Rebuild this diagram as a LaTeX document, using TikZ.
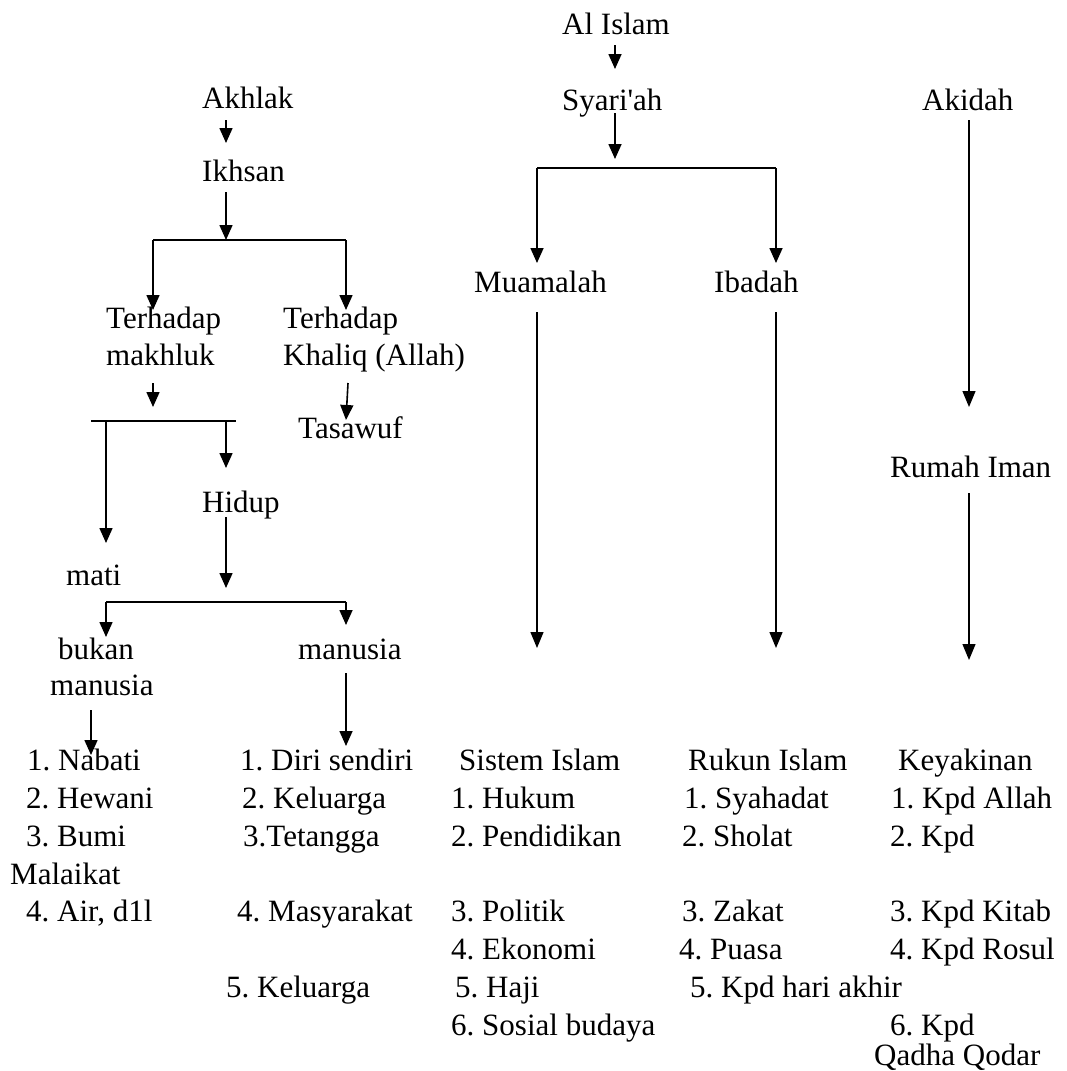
\documentclass[tikz,border=0pt]{standalone}
\usepackage{fontspec}
\setmainfont{Liberation Serif}
\usetikzlibrary{arrows.meta}
\frenchspacing
\begin{document}
\begin{tikzpicture}[x=1pt,y=-1pt,
  txt/.style={inner sep=0pt,anchor=base west,font=\fontsize{31}{37}\selectfont},
  arr/.style={line width=1.6pt,-{Triangle[width=13pt,length=15pt]}},
  longarr/.style={line width=1.3pt,-{Triangle[width=13pt,length=16pt]}},
  ln/.style={line width=1.6pt}]
\useasboundingbox (0,0) rectangle (1066,1071);
% ---------- left tree ----------
\node[txt] (akhlak) at (202,108) {Akhlak};
\node[txt] (ikhsan) at (202,181) {Ikhsan};
\node[txt] (terL1) at (106,328) {Terhadap};
\node[txt] (terL2) at (106,365) {makhluk};
\node[txt] (terR1) at (283,328) {Terhadap};
\node[txt] (terR2) at (283,365) {Khaliq (Allah)};
\node[txt] (tasawuf) at (298,438) {Tasawuf};
\node[txt] (hidup) at (202,512) {Hidup};
\node[txt] (mati) at (66,585) {mati};
\node[txt] (bukan1) at (58,659) {bukan};
\node[txt] (bukan2) at (50,695) {manusia};
\node[txt] (manusia) at (298,659) {manusia};
% coordinates
\coordinate (a1s) at (226,120); \coordinate (a1e) at (226,143);
\coordinate (a2s) at (226,192); \coordinate (a2e) at (226,240);
\coordinate (b1L) at (153,240); \coordinate (b1R) at (346,240);
\coordinate (b1Le) at (153,310); \coordinate (b1Re) at (346,310);
\coordinate (a3s) at (153,383); \coordinate (a3e) at (153,407);
\coordinate (a4s) at (348,383); \coordinate (a4e) at (346,420);
\coordinate (b2L) at (91,421); \coordinate (b2R) at (236,421);
\coordinate (b2l) at (106,421); \coordinate (b2r) at (226,421);
\coordinate (b2le) at (106,543); \coordinate (b2re) at (226,468);
\coordinate (a5s) at (226,517); \coordinate (a5e) at (226,588);
\coordinate (b3L) at (106,602); \coordinate (b3R) at (346,602);
\coordinate (b3Le) at (106,637); \coordinate (b3Re) at (346,625);
\coordinate (a6s) at (91,710); \coordinate (a6e) at (91,755);
\coordinate (a7s) at (346,673); \coordinate (a7e) at (346,746);
\draw[arr] (a1s) -- (a1e);
\draw[arr] (a2s) -- (a2e);
\draw[ln] (b1L) -- (b1R);
\draw[arr] (b1L) -- (b1Le);
\draw[arr] (b1R) -- (b1Re);
\draw[arr] (a3s) -- (a3e);
\draw[arr] (a4s) -- (a4e);
\draw[ln] (b2L) -- (b2R);
\draw[arr] (b2l) -- (b2le);
\draw[arr] (b2r) -- (b2re);
\draw[arr] (a5s) -- (a5e);
\draw[ln] (b3L) -- (b3R);
\draw[arr] (b3L) -- (b3Le);
\draw[arr] (b3R) -- (b3Re);
\draw[arr] (a6s) -- (a6e);
\draw[arr] (a7s) -- (a7e);
% ---------- right trees ----------
\node[txt] (alislam) at (562,34) {Al Islam};
\node[txt] (syariah) at (562,110) {Syari\textquotesingle ah};
\node[txt] (akidah) at (922,110) {Akidah};
\node[txt] (muamalah) at (474,292) {Muamalah};
\node[txt] (ibadah) at (714,292) {Ibadah};
\node[txt] (rumah) at (890,477) {Rumah Iman};
\coordinate (c1s) at (615,45); \coordinate (c1e) at (615,69);
\coordinate (c2s) at (615,113); \coordinate (c2e) at (615,159);
\coordinate (d1L) at (537,168); \coordinate (d1R) at (776,168);
\coordinate (d1Le) at (537,263); \coordinate (d1Re) at (776,263);
\coordinate (m1s) at (537,312); \coordinate (m1e) at (537,648);
\coordinate (i1s) at (776,312); \coordinate (i1e) at (776,648);
\coordinate (k1s) at (969,120); \coordinate (k1e) at (969,407);
\coordinate (k2s) at (969,493); \coordinate (k2e) at (969,660);
\draw[arr] (c1s) -- (c1e);
\draw[arr] (c2s) -- (c2e);
\draw[ln] (d1L) -- (d1R);
\draw[arr] (d1L) -- (d1Le);
\draw[arr] (d1R) -- (d1Re);
\draw[longarr] (m1s) -- (m1e);
\draw[longarr] (i1s) -- (i1e);
\draw[longarr] (k1s) -- (k1e);
\draw[longarr] (k2s) -- (k2e);
% ---------- lists ----------
\node[txt] (n1) at (27,770) {1. Nabati};
\node[txt] (n2) at (26,808) {2. Hewani};
\node[txt] (n3) at (26,846) {3. Bumi};
\node[txt] (n4) at (10,884) {Malaikat};
\node[txt] (n5) at (26,921) {4. Air, d1l};
\node[txt] (d1) at (240,770) {1. Diri sendiri};
\node[txt] (d2) at (242,808) {2. Keluarga};
\node[txt] (d3) at (243,846) {3.Tetangga};
\node[txt] (d4) at (237,921) {4. Masyarakat};
\node[txt] (d5) at (226,997) {5. Keluarga};
\node[txt] (s0) at (459,770) {Sistem Islam};
\node[txt] (s1) at (451,808) {1. Hukum};
\node[txt] (s2) at (451,846) {2. Pendidikan};
\node[txt] (s3) at (451,921) {3. Politik};
\node[txt] (s4) at (451,959) {4. Ekonomi};
\node[txt] (s5) at (455,997) {5. Haji};
\node[txt] (s6) at (451,1035) {6. Sosial budaya};
\node[txt] (r0) at (688,770) {Rukun Islam};
\node[txt] (r1) at (684,808) {1. Syahadat};
\node[txt] (r2) at (682,846) {2. Sholat};
\node[txt] (r3) at (682,921) {3. Zakat};
\node[txt] (r4) at (679,959) {4. Puasa};
\node[txt] (r5) at (690,997) {5. Kpd hari akhir};
\node[txt] (y0) at (898,770) {Keyakinan};
\node[txt] (y1) at (891,808) {1. Kpd Allah};
\node[txt] (y2) at (890,846) {2. Kpd};
\node[txt] (y3) at (890,921) {3. Kpd Kitab};
\node[txt] (y4) at (890,959) {4. Kpd Rosul};
\node[txt] (y6) at (890,1035) {6. Kpd};
\node[txt] (y7) at (874,1065) {Qadha Qodar};
\end{tikzpicture}
\end{document}
